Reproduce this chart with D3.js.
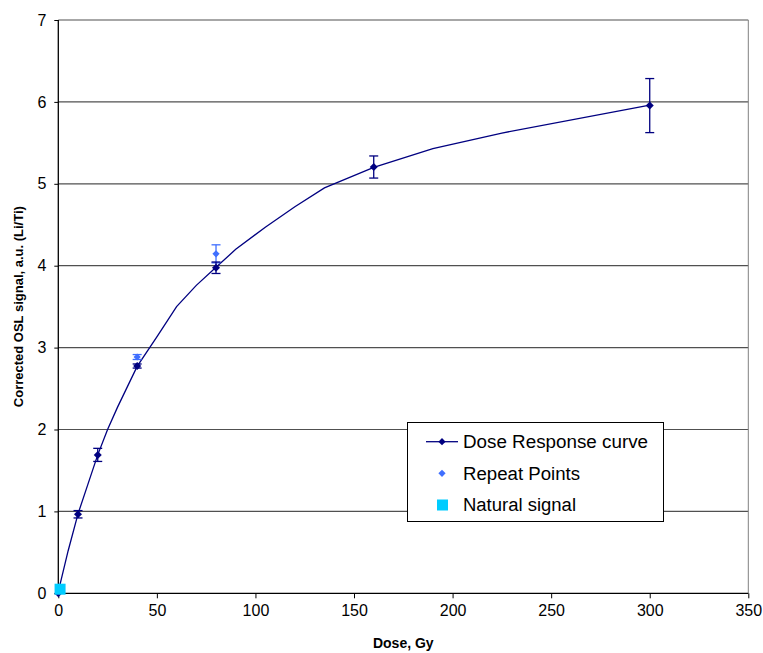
<!DOCTYPE html>
<html><head><meta charset="utf-8">
<script src="https://cdn.jsdelivr.net/npm/d3@7"></script>
<style>
body{margin:0;background:#fff;}
text{font-family:"Liberation Sans",Arial,sans-serif;}
</style></head>
<body><svg id="c" width="763" height="653"></svg>
<script>
// Data
const curveDose = [0,5,10,15,20,25,30,40,50,60,70,80,90,105,120,135,160,190,225,300];
const curveSignal = [0.02,0.52,0.97,1.33,1.69,2.0,2.27,2.77,3.13,3.5,3.76,3.98,4.2,4.47,4.72,4.95,5.2,5.43,5.62,5.96];
const doseDose = [0,10,20,40,80,160,300];
const doseSignal = [0.0,0.965,1.69,2.775,3.975,5.205,5.955];
const doseErr = [0,0.045,0.08,0.025,0.07,0.135,0.33];
const repeatDose = [40,80];
const repeatSignal = [2.885,4.145];
const repeatErr = [0.03,0.11];
const naturalDose = [0.9];
const naturalSignal = [0.05];
const xTicks = [0,50,100,150,200,250,300,350];
const yTicks = [0,1,2,3,4,5,6,7];
const legendLabels = ["Dose Response curve","Repeat Points","Natural signal"];

const svg = d3.select("#c");
const L=58.3, R=748.3, T=20, B=593.3;
const x = d3.scaleLinear().domain([0,350]).range([L,R]);
const y = d3.scaleLinear().domain([0,7]).range([B,T]);

const navy="#000080", blue="#3f6fff", cyan="#00ccff";

// gridlines
svg.append("g").selectAll("line").data(yTicks.filter(d=>d>0)).join("line")
  .attr("x1",L).attr("x2",R).attr("y1",d=>y(d)).attr("y2",d=>y(d))
  .attr("stroke","#505050").attr("stroke-width",1.2);
// right border
svg.append("line").attr("x1",R).attr("x2",R).attr("y1",T).attr("y2",B).attr("stroke","#808080");

// axes
const yAxis = svg.append("g").attr("transform",`translate(${L},0)`)
  .call(d3.axisLeft(y).tickValues(yTicks).tickSize(4).tickPadding(8).tickFormat(d3.format("d")));
const xAxis = svg.append("g").attr("transform",`translate(0,${B})`)
  .call(d3.axisBottom(x).tickValues(xTicks).tickSize(5).tickPadding(6).tickFormat(d3.format("d")));
[xAxis,yAxis].forEach(a=>{
  a.select(".domain").attr("stroke","#000").attr("stroke-width",1.3);
  a.selectAll(".tick line").attr("stroke","#000");
  a.selectAll("text").attr("font-size",16).attr("fill","#000").attr("font-family","Liberation Sans, Arial, sans-serif");
});
xAxis.select(".domain").attr("d",`M${L},0H${R}`);
yAxis.select(".domain").attr("d",`M0,${B}V${T}`);

// axis titles
svg.append("text").attr("x",(L+R)/2).attr("y",648).attr("text-anchor","middle")
  .attr("font-size",14).attr("font-weight","bold").text("Dose, Gy");
svg.append("text").attr("transform",`translate(23,${(T+B)/2}) rotate(-90)`).attr("text-anchor","middle")
  .attr("font-size",13).attr("font-weight","bold").text("Corrected OSL signal, a.u. (Li/Ti)");

// curve
const curve = curveDose.map((d,i)=>[d,curveSignal[i]]);
svg.append("path").datum(curve)
  .attr("d",d3.line().x(d=>x(d[0])).y(d=>y(d[1])))
  .attr("fill","none").attr("stroke",navy).attr("stroke-width",1.3);

function errBars(dx,dy,de,col){
  const g=svg.append("g").attr("stroke",col).attr("stroke-width",1.3);
  dx.forEach((d,i)=>{
    if(!de[i]) return;
    const cx=x(d), y1=y(dy[i]+de[i]), y2=y(dy[i]-de[i]);
    g.append("line").attr("x1",cx).attr("x2",cx).attr("y1",y1).attr("y2",y2);
    g.append("line").attr("x1",cx-4.5).attr("x2",cx+4.5).attr("y1",y1).attr("y2",y1);
    g.append("line").attr("x1",cx-4.5).attr("x2",cx+4.5).attr("y1",y2).attr("y2",y2);
  });
}
const diamond = s=>`M0,${-s}L${s},0L0,${s}L${-s},0Z`;

errBars(repeatDose,repeatSignal,repeatErr,blue);
svg.append("g").selectAll("path").data(repeatDose).join("path")
  .attr("transform",(d,i)=>`translate(${x(d)},${y(repeatSignal[i])})`)
  .attr("d",diamond(3.6)).attr("fill",blue);

errBars(doseDose,doseSignal,doseErr,navy);
svg.append("g").selectAll("path").data(doseDose).join("path")
  .attr("transform",(d,i)=>`translate(${x(d)},${y(doseSignal[i])})`)
  .attr("d",diamond(4)).attr("fill",navy);

svg.append("g").selectAll("rect").data(naturalDose).join("rect")
  .attr("x",(d)=>x(d)-5.5).attr("y",(d,i)=>y(naturalSignal[i])-5.5)
  .attr("width",11).attr("height",11).attr("fill",cyan);

// legend
const lg = svg.append("g");
lg.append("rect").attr("x",407.5).attr("y",422.5).attr("width",256).attr("height",99)
  .attr("fill","#fff").attr("stroke","#000").attr("stroke-width",1);
const rows=[441.7,473.3,505];
lg.append("line").attr("x1",426).attr("x2",458).attr("y1",rows[0]).attr("y2",rows[0]).attr("stroke",navy).attr("stroke-width",1.3);
lg.append("path").attr("transform",`translate(442,${rows[0]})`).attr("d",diamond(3.6)).attr("fill",navy);
lg.append("path").attr("transform",`translate(442,${rows[1]})`).attr("d",diamond(3.6)).attr("fill",blue);
lg.append("rect").attr("x",437).attr("y",rows[2]-5.5).attr("width",11).attr("height",11).attr("fill",cyan);
const legendWidths=[185,117,113];
lg.selectAll("text.l").data(legendLabels).join("text").attr("class","l")
  .attr("x",463).attr("y",(d,i)=>rows[i]).attr("dy","0.36em").attr("font-size",18)
  .attr("textLength",(d,i)=>legendWidths[i]).attr("lengthAdjust","spacingAndGlyphs")
  .attr("fill","#000").text(d=>d);
</script></body></html>
